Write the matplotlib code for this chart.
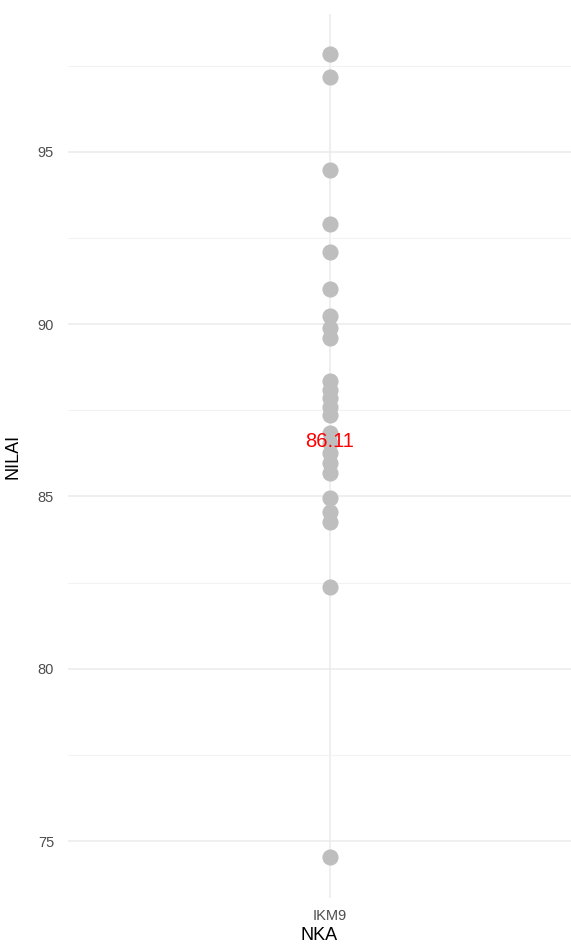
import numpy as np
import matplotlib
matplotlib.use("Agg")
import matplotlib.pyplot as plt

plt.rcParams['font.family'] = ['Liberation Sans', 'DejaVu Sans']

# data
category = ["IKM9"]
nilai = [97.85, 97.18, 94.48, 92.90, 92.10, 91.02, 90.23, 89.88, 89.60,
         88.35, 88.09, 87.86, 87.60, 87.37, 86.84, 86.55, 86.26, 85.97,
         85.68, 84.96, 84.55, 84.26, 82.37, 74.54]
mean_label = "86.11"
label_y = 86.6
y_ticks = [75, 80, 85, 90, 95]
y_minor = [77.5, 82.5, 87.5, 92.5, 97.5]

fig = plt.figure(figsize=(5.71, 9.46), dpi=100)
ax = fig.add_axes([68 / 571, 48 / 946, (571 - 68) / 571, (898 - 14) / 946])

ax.scatter(np.zeros(len(nilai)), nilai, s=135, color="#BEBEBE", zorder=3, linewidths=0)
ax.text(0, label_y, mean_label, color="red", ha="center", va="center", fontsize=14.5, zorder=4)

ax.set_xlim(-0.6, 0.552)
ax.set_ylim(73.35, 99.0)
ax.set_xticks([0])
ax.set_xticklabels(category)
ax.set_yticks(y_ticks)
ax.set_yticks(y_minor, minor=True)

ax.grid(True, which="major", color="#EBEBEB", linewidth=1.1, zorder=0)
ax.grid(True, which="minor", axis="y", color="#F2F2F2", linewidth=0.8, zorder=0)
for s in ax.spines.values():
    s.set_visible(False)
ax.tick_params(which="both", length=0, labelsize=10.5, labelcolor="#4D4D4D")
ax.tick_params(axis="y", pad=10)
ax.tick_params(axis="x", pad=8)

ax.set_xlabel("NKA", fontsize=13, labelpad=3)
ax.set_ylabel("NILAI", fontsize=13, labelpad=12)

fig.savefig("out.png", dpi=100)
